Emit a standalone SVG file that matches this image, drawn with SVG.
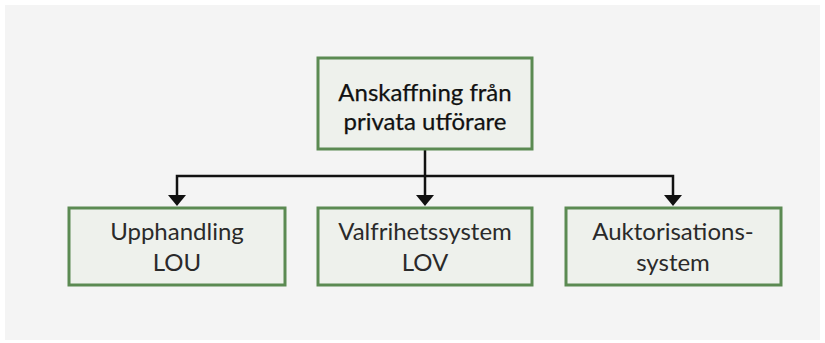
<svg xmlns="http://www.w3.org/2000/svg" width="825" height="343" viewBox="0 0 825 343">
<style>
.box{fill:#eef1ec;stroke:#5b8a52;stroke-width:3}
.t{font-family:Lato,"Open Sans",sans-serif;font-size:24px;fill:#2a2a2a;text-anchor:middle}
.tb{fill:#111;stroke:#111;stroke-width:0.25}
.c{fill:none;stroke:#111;stroke-width:2.5}
.ah{fill:#111}
</style>
<rect width="825" height="343" fill="#ffffff"/>
<rect x="5" y="5" width="815" height="335" fill="#f4f4f4"/>
<g id="connectors">
<path class="c" d="M425,149 V196"/>
<path class="c" d="M177,196 V176 H673 V196"/>
<path class="ah" d="M168,195 L186,195 L177,206 Z"/>
<path class="ah" d="M416,195 L434,195 L425,206 Z"/>
<path class="ah" d="M664,195 L682,195 L673,206 Z"/>
</g>
<g id="n0">
<rect class="box" x="318" y="58" width="214" height="91"/>
<text class="t tb" x="425" y="101">Anskaffning från</text>
<text class="t tb" x="425" y="130">privata utförare</text>
</g>
<g id="n1">
<rect class="box" x="69" y="208" width="216" height="77"/>
<text class="t" x="177" y="240">Upphandling</text>
<text class="t" x="177" y="271">LOU</text>
</g>
<g id="n2">
<rect class="box" x="318" y="208" width="214" height="77"/>
<text class="t" x="425" y="240">Valfrihetssystem</text>
<text class="t" x="425" y="271">LOV</text>
</g>
<g id="n3">
<rect class="box" x="566" y="208" width="215" height="77"/>
<text class="t" x="673" y="240">Auktorisations-</text>
<text class="t" x="673" y="271">system</text>
</g>
</svg>
